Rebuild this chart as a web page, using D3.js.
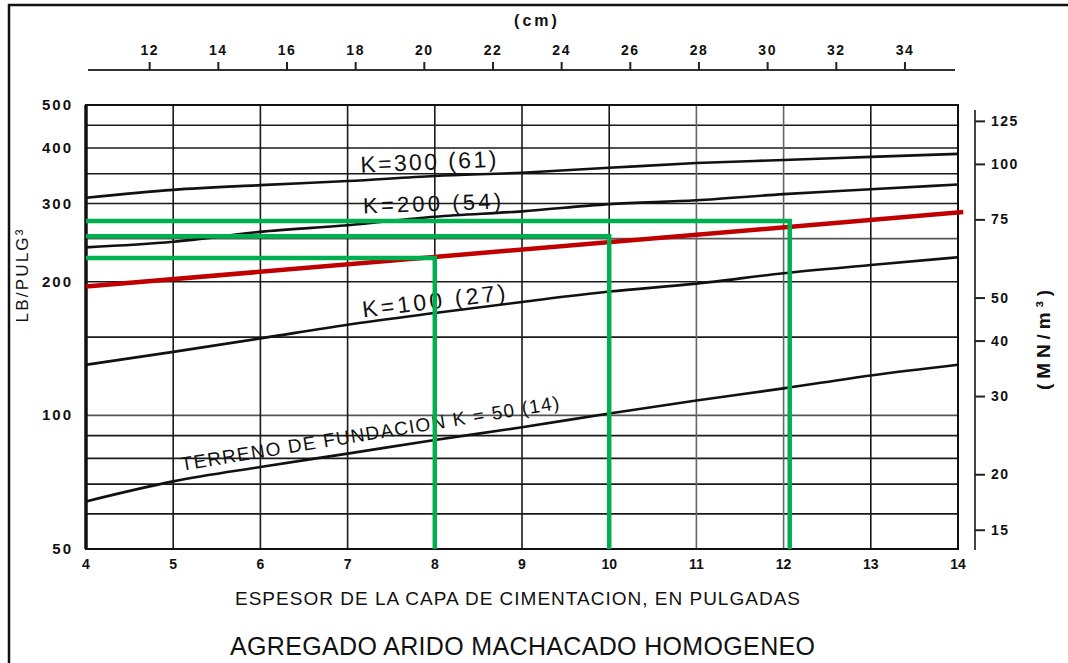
<!DOCTYPE html>
<html>
<head>
<meta charset="utf-8">
<title>Agregado arido machacado homogeneo</title>
<script src="https://d3js.org/d3.v7.min.js"></script>
<style>
  body { margin: 0; background: #fff; }
  text { font-family: "Liberation Sans", Arial, sans-serif; fill: #111; }
</style>
</head>
<body>
<div id="chart"></div>
<script>

// espesor de la capa (pulgadas)
var espesor = [4, 5, 6, 7, 8, 9, 10, 11, 12, 13, 14];

// modulo de reaccion compuesto (lb/pulg3) para cada K de terreno
var k300 = [309, 322, 330, 337, 346, 352, 361, 370, 376, 382, 388];
var k200 = [239, 246, 259, 268, 280, 288, 299, 305, 315, 323, 331];
var k100 = [130, 139, 149, 160, 170, 180, 190, 198, 209, 218, 227];
var k50  = [64, 71, 76.5, 82, 88, 94, 101, 108, 115, 123, 130];

// linea roja (trazo del ejemplo)
var rojoX = [4, 14.06];
var rojoY = [195, 287];

// lecturas en verde: espesor -> k
var verdeX = [8, 10, 12.07];
var verdeY = [226, 253, 274];

// ticks
var ticksIzq = [50, 100, 200, 300, 400, 500];
var ticksDer = [15, 20, 30, 40, 50, 75, 100, 125];
var ticksCm = [12, 14, 16, 18, 20, 22, 24, 26, 28, 30, 32, 34];
var gridH = [60, 70, 80, 90, 100, 150, 200, 250, 300, 350, 400, 450, 500];
var gridV = [5, 6, 7, 8, 9, 10, 11, 12, 13];

var W = 1068, H = 663;
var svg = d3.select("#chart").append("svg")
    .attr("width", W).attr("height", H);

// scales
var x = d3.scaleLinear().domain([4, 14]).range([86, 958]);
var y = d3.scaleLog().domain([50, 500]).range([549, 105]);
var xcm = d3.scaleLinear().domain([4 * 2.54, 14 * 2.54]).range([86, 958]);
var PCI = 3.684; // 1 MN/m3 = 3.684 lb/pulg3
var ymn = d3.scaleLog().domain([50 / PCI, 500 / PCI]).range([549, 105]);

// marco de la pagina (solo arriba e izquierda)
svg.append("path")
    .attr("d", "M9," + H + "V5H" + W)
    .attr("fill", "none").attr("stroke", "#111").attr("stroke-width", 2.5);

// grid
var grid = svg.append("g").attr("stroke", "#1a1a1a").attr("stroke-width", 1.6);
grid.selectAll(".h").data(gridH).enter().append("line")
    .attr("x1", x(4)).attr("x2", x(14))
    .attr("y1", function(d) { return y(d); })
    .attr("y2", function(d) { return y(d); })
    .attr("stroke", function(d, i) { return (d == 100 || d == 250) ? "#555" : null; });
grid.selectAll(".v").data(gridV).enter().append("line")
    .attr("x1", function(d) { return x(d); })
    .attr("x2", function(d) { return x(d); })
    .attr("y1", y(500)).attr("y2", y(50))
    .attr("stroke", function(d) { return (d == 11 || d == 12) ? "#666" : null; });

// marco del grafico
svg.append("rect")
    .attr("x", x(4)).attr("y", y(500))
    .attr("width", x(14) - x(4)).attr("height", y(50) - y(500))
    .attr("fill", "none").attr("stroke", "#111").attr("stroke-width", 2);
svg.append("line")
    .attr("x1", x(4)).attr("x2", x(4)).attr("y1", y(500)).attr("y2", y(50))
    .attr("stroke", "#111").attr("stroke-width", 3.5);

// curvas K
var curvas = [k300, k200, k100, k50];
var linea = d3.line()
    .x(function(d, i) { return x(espesor[i]); })
    .y(function(d) { return y(d); })
    .curve(d3.curveMonotoneX);
svg.selectAll(".curva").data(curvas).enter().append("path")
    .attr("fill", "none").attr("stroke", "#111").attr("stroke-width", 2.6)
    .attr("d", linea);

// etiquetas de curvas
var etiquetas = [
  { t: "K=300 (61)", x: 7.15, v: 352, rot: -2.5, size: 23, len: 136 },
  { t: "K=200 (54)", x: 7.18, v: 285, rot: -2, size: 22, len: 138 },
  { t: "K=100 (27)", x: 7.18, v: 166, rot: -7, size: 23, len: 144 },
  { t: "TERRENO DE FUNDACION K = 50 (14)", x: 5.1, v: 75, rot: -9.3, size: 19, len: 383 }
];
svg.selectAll(".etq").data(etiquetas).enter().append("text")
    .attr("transform", function(d) {
      return "translate(" + x(d.x) + "," + y(d.v) + ") rotate(" + d.rot + ")";
    })
    .attr("font-size", function(d) { return d.size; })
    .attr("textLength", function(d) { return d.len; })
    .attr("lengthAdjust", "spacing")
    .text(function(d) { return d.t; });

// linea roja
svg.append("path")
    .datum(rojoX)
    .attr("fill", "none").attr("stroke", "#c00000").attr("stroke-width", 4.5)
    .attr("d", d3.line()
      .x(function(d) { return x(d); })
      .y(function(d, i) { return y(rojoY[i]); }));

// lineas verdes
var verdes = svg.append("g").attr("stroke", "#00b050").attr("stroke-width", 4.5).attr("fill", "none");
verdes.selectAll("path").data(verdeX).enter().append("path")
    .attr("d", function(d, i) {
      return "M" + x(4) + "," + y(verdeY[i]) + "H" + x(d) + "V" + y(50);
    });

// eje inferior (pulgadas)
svg.selectAll(".tx").data(espesor).enter().append("text")
    .attr("x", function(d) { return x(d); })
    .attr("y", y(50) + 20)
    .attr("text-anchor", "middle")
    .attr("font-size", 14).attr("font-weight", "bold")
    .text(function(d) { return d; });

svg.append("text")
    .attr("x", 235).attr("y", 605)
    .attr("font-size", 19).attr("textLength", 565).attr("lengthAdjust", "spacing")
    .text("ESPESOR DE LA CAPA DE CIMENTACION, EN PULGADAS");

svg.append("text")
    .attr("x", 230).attr("y", 655)
    .attr("font-size", 25).attr("textLength", 585).attr("lengthAdjust", "spacing")
    .text("AGREGADO ARIDO MACHACADO HOMOGENEO");

// eje izquierdo (lb/pulg3)
svg.selectAll(".ty").data(ticksIzq).enter().append("text")
    .attr("x", 73)
    .attr("y", function(d) { return y(d) + 5; })
    .attr("text-anchor", "end")
    .attr("font-size", 15).attr("font-weight", "bold").attr("letter-spacing", 2)
    .text(function(d) { return d; });

svg.append("text")
    .attr("transform", "translate(28,276) rotate(-90)")
    .attr("text-anchor", "middle")
    .attr("font-size", 17).attr("textLength", 93).attr("lengthAdjust", "spacing")
    .text("LB/PULG³");

// eje superior (cm)
var gTop = svg.append("g").attr("transform", "translate(0,70)")
    .call(d3.axisTop(xcm).tickValues(ticksCm).tickSize(8).tickSizeOuter(0));
gTop.select(".domain").attr("stroke", "#333").attr("stroke-width", 2)
    .attr("d", "M88,0H955");
gTop.selectAll(".tick line").attr("stroke", "#222").attr("stroke-width", 2);
gTop.selectAll(".tick text")
    .attr("font-size", 14).attr("font-weight", "bold").attr("letter-spacing", 1.5)
    .attr("font-family", "Liberation Sans, Arial, sans-serif").attr("fill", "#111")
    .attr("dy", "-0.3em");

svg.append("text")
    .attr("x", 537).attr("y", 26)
    .attr("text-anchor", "middle")
    .attr("font-size", 16).attr("font-weight", "bold").attr("letter-spacing", 3)
    .text("(cm)");

// eje derecho (MN/m3)
var gRight = svg.append("g").attr("transform", "translate(975,0)")
    .call(d3.axisRight(ymn).tickValues(ticksDer).tickFormat(d3.format("d")).tickSize(10).tickSizeOuter(0));
gRight.select(".domain").attr("stroke", "#444").attr("stroke-width", 2)
    .attr("d", "M0,110V550");
gRight.selectAll(".tick line").attr("stroke", "#222").attr("stroke-width", 2);
gRight.selectAll(".tick text")
    .attr("font-size", 14).attr("font-weight", "bold").attr("letter-spacing", 1.5)
    .attr("font-family", "Liberation Sans, Arial, sans-serif").attr("fill", "#111")
    .attr("x", 16);

svg.append("text")
    .attr("transform", "translate(1050,340) rotate(-90)")
    .attr("text-anchor", "middle")
    .attr("font-size", 19).attr("font-weight", "bold")
    .attr("textLength", 100).attr("lengthAdjust", "spacing")
    .text("(MN/m³)");

</script>
</body>
</html>
